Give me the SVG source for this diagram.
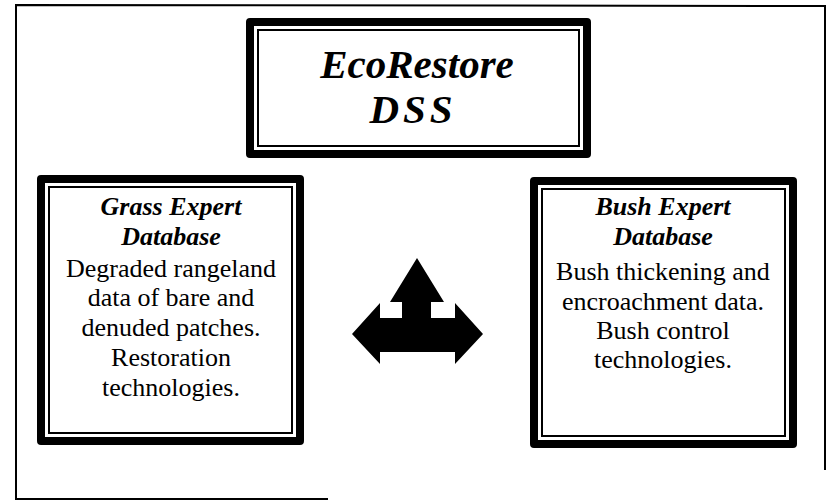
<svg xmlns="http://www.w3.org/2000/svg" width="827" height="501" viewBox="0 0 827 501">
<defs>
<style>
.band{fill:none;stroke:#000;stroke-width:8;stroke-linejoin:round}
.thin{fill:none;stroke:#000;stroke-width:2}
.frame{fill:none;stroke:#000;stroke-width:2}
text{font-family:"Liberation Serif","Times New Roman",serif;fill:#000;text-anchor:middle}
.head{font-weight:bold;font-style:italic;font-size:26px}
.body{font-size:26px}
.title{font-weight:bold;font-style:italic;font-size:41px}
</style>
</defs>
<rect width="827" height="501" fill="#fff"/>
<g id="frame">
<polyline class="frame" points="825,470 825,6 16,5 16,500"/>
<line class="frame" x1="16" y1="499" x2="328" y2="499"/>
</g>
<g id="title">
<rect class="band" x="250" y="22" width="337" height="132"/>
<rect class="thin" x="258" y="30" width="321" height="116"/>
<text class="title" x="417" y="78">EcoRestore</text>
<text class="title" x="413" y="123" letter-spacing="4">DSS</text>
</g>
<g id="grass">
<rect class="band" x="41" y="179" width="259" height="262"/>
<rect class="thin" x="49" y="187" width="243" height="246"/>
<text class="head" x="171" y="215">Grass Expert</text>
<text class="head" x="171" y="245">Database</text>
<text class="body" x="171" y="277">Degraded rangeland</text>
<text class="body" x="171" y="306">data of bare and</text>
<text class="body" x="171" y="336">denuded patches.</text>
<text class="body" x="171" y="366">Restoration</text>
<text class="body" x="171" y="396">technologies.</text>
</g>
<g id="bush">
<rect class="band" x="534" y="181" width="259" height="263"/>
<rect class="thin" x="542" y="189" width="243" height="247"/>
<text class="head" x="663" y="215">Bush Expert</text>
<text class="head" x="663" y="245">Database</text>
<text class="body" x="663" y="280">Bush thickening and</text>
<text class="body" x="663" y="310">encroachment data.</text>
<text class="body" x="663" y="339">Bush control</text>
<text class="body" x="663" y="368">technologies.</text>
</g>
<g id="connectors">
<polygon fill="#000" points="417,258 444,302 431,302 431,318 455,318 455,303 483,334 455,364 455,352 380,352 380,364 352,334 380,303 380,318 402,318 402,302 390,302"/>
</g>
</svg>
